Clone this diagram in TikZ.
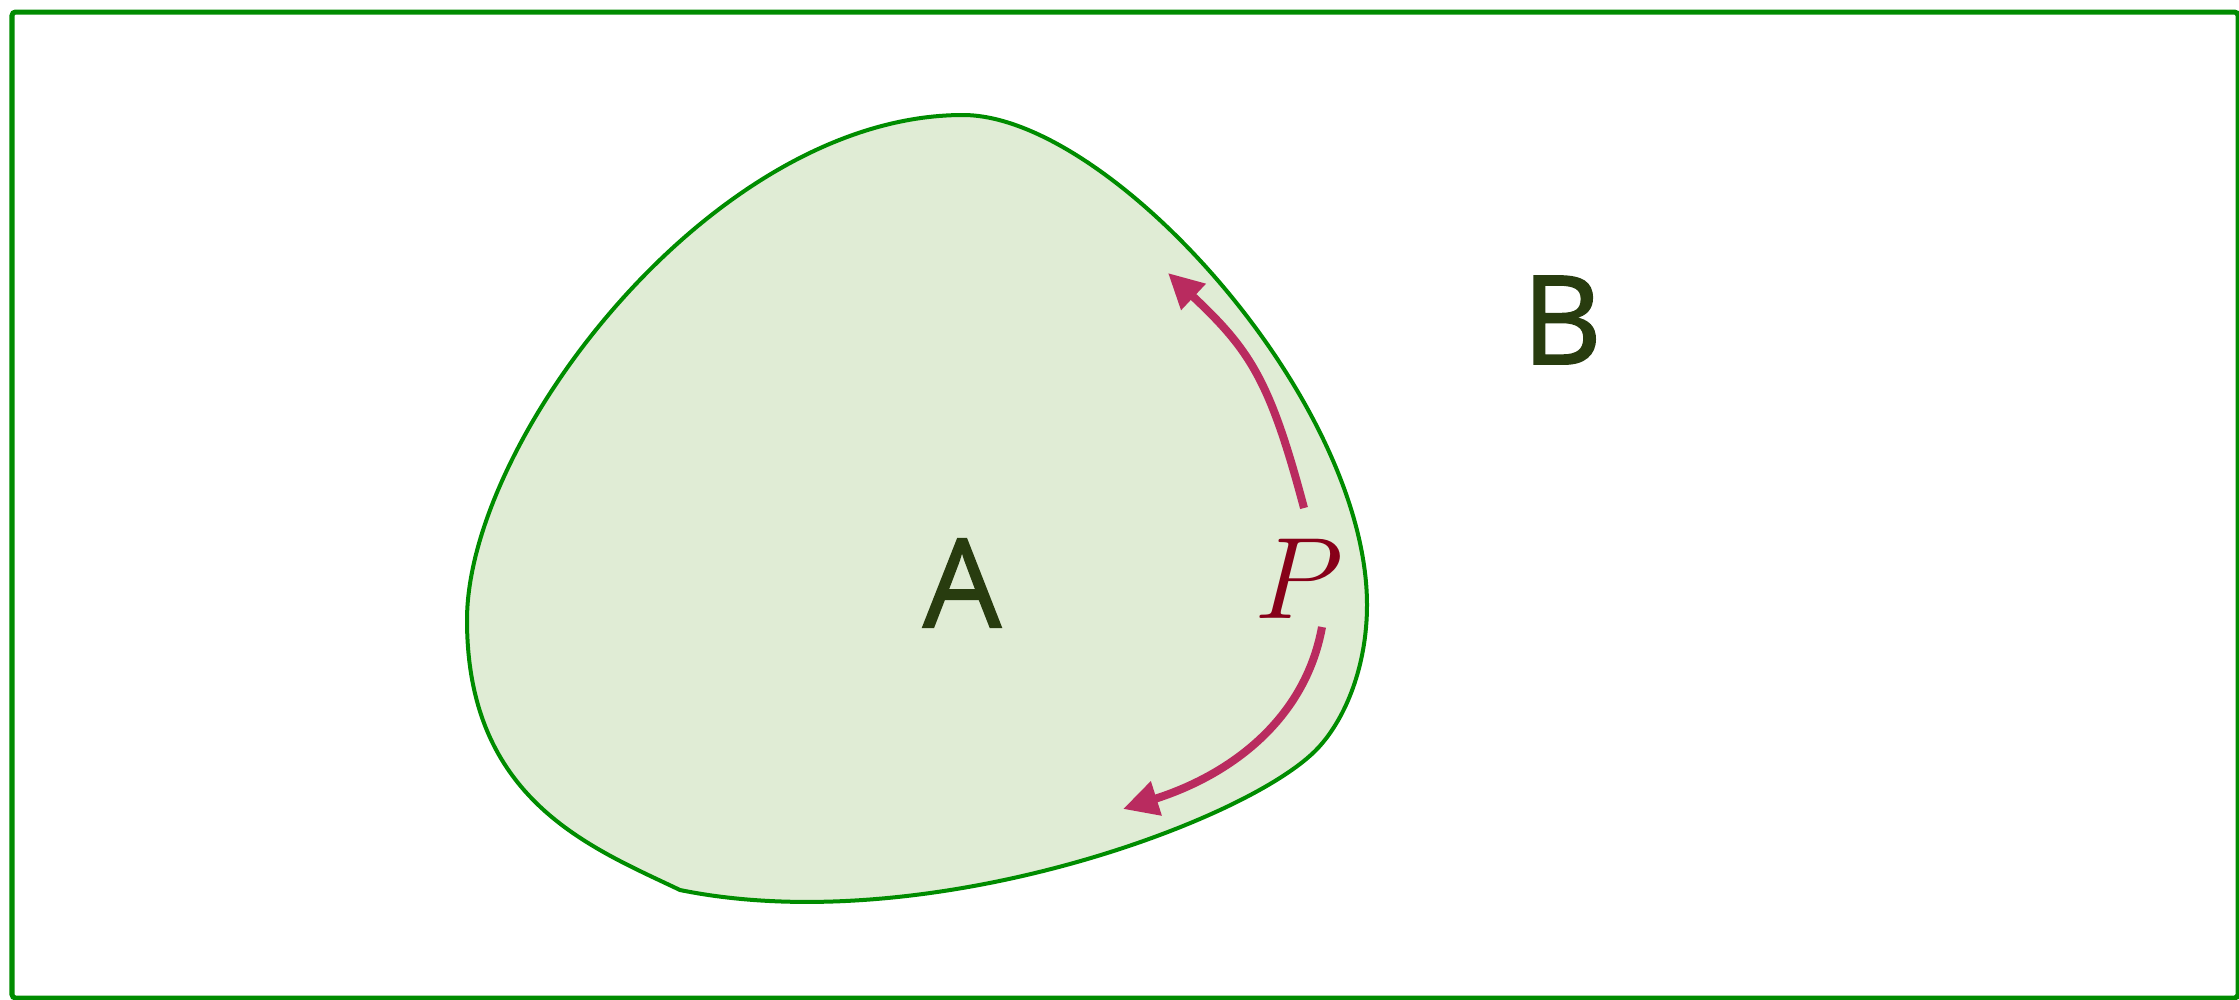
\RequirePackage{fix-cm}
\documentclass[tikz,border=0pt]{standalone}
\usepackage{fontspec}
\setsansfont{Open Sans}[FakeBold=1.5]
\usepackage{xcolor}
\definecolor{setgreen}{RGB}{0, 140, 0}
\definecolor{setfill}{RGB}{224, 236, 213}
\definecolor{labelgreen}{RGB}{40, 60, 15}
\definecolor{flowred}{RGB}{185, 43, 95}
\definecolor{pointred}{RGB}{135, 0, 25}
\usepackage{tikz}
\usetikzlibrary{arrows.meta, positioning, calc}

\tikzset{
  setlabel/.style={text=labelgreen, inner sep=0pt, font=\sffamily\fontsize{35}{40}\selectfont},
  flow/.style={draw=flowred, line width=0.08cm,
    -{Triangle[length=0.35cm, width=0.34cm]}},
}

\begin{document}
\begin{tikzpicture}[x=0.01cm, y=-0.01cm]
  \useasboundingbox (0,0) rectangle (2239,999);

  % universe B
  \draw[setgreen, line width=0.05cm, rounded corners=1pt] (12,12) rectangle (2238,998);

  % set A
  \draw[setgreen, fill=setfill, line width=0.04cm]
    (963,115) .. controls (1110,115) and (1367,400) .. (1367,605)
    .. controls (1367,665) and (1346,718) .. (1318,748)
    .. controls (1250,821) and (926,940) .. (680,890)
    .. controls (590,847) and (467,800) .. (467,620)
    .. controls (467,440) and (713,115) .. cycle;

  \node[setlabel] (a) at (962,583) {A};
  \node[setlabel] (b) at (1562,320) {B};
  \node[text=pointred, inner sep=0pt, font=\fontsize{33}{36}\selectfont] (p) at (1299,579) {$P$};

  \coordinate (up-start) at (1304,508);
  \coordinate (up-end) at (1168,273);
  \coordinate (down-start) at (1322,627);
  \coordinate (down-end) at (1123,809);

  \draw[flow] (up-start) .. controls (1270,380) and (1250,350) .. (up-end);
  \draw[flow] (down-start) .. controls (1305,720) and (1230,775) .. (down-end);
\end{tikzpicture}
\end{document}
